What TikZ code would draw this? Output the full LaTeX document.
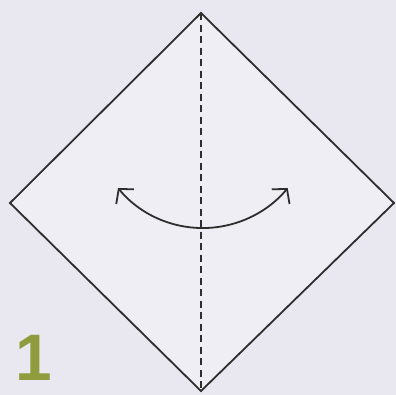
\documentclass[tikz,border=0pt]{standalone}
\usepackage{fontspec}
\setmainfont{Liberation Sans}
\usetikzlibrary{arrows.meta}
\definecolor{bg}{HTML}{E9E8F1}
\definecolor{paper}{HTML}{EFEEF5}
\definecolor{ink}{HTML}{2E2E2E}
\definecolor{olive}{HTML}{8E9C3E}
\tikzset{
  edge/.style={draw=ink, line width=1.8bp, line join=miter},
  fold/.style={draw=ink, line width=1.8bp, dash pattern=on 7bp off 4.5bp},
  turn/.style={draw=ink, line width=1.8bp, {Straight Barb[length=10bp,width=23bp,line width=1.8bp]}-{Straight Barb[length=10bp,width=23bp,line width=1.8bp]}},
  stepnum/.style={text=olive, font=\bfseries\fontsize{66}{66}\selectfont, inner sep=0pt, anchor=base west}
}
\begin{document}
\begin{tikzpicture}[x=1bp,y=-1bp]
\fill[bg] (0,0) rectangle (396,395);
\useasboundingbox (0,0) rectangle (396,395);
\coordinate (T) at (201,13);
\coordinate (L) at (10,203);
\coordinate (R) at (394,203);
\coordinate (B) at (201,391);
\fill[paper] (T) -- (R) -- (B) -- (L) -- cycle;
\draw[edge] (T) -- (R) -- (B) -- (L) -- cycle;
\draw[fold] (T) -- (B);
\coordinate (A1) at (118,188);
\draw[turn] (A1) arc[start angle=140.5, end angle=39.5, radius=110];
\node[stepnum] (num) at (15,380) {1};
\end{tikzpicture}
\end{document}
